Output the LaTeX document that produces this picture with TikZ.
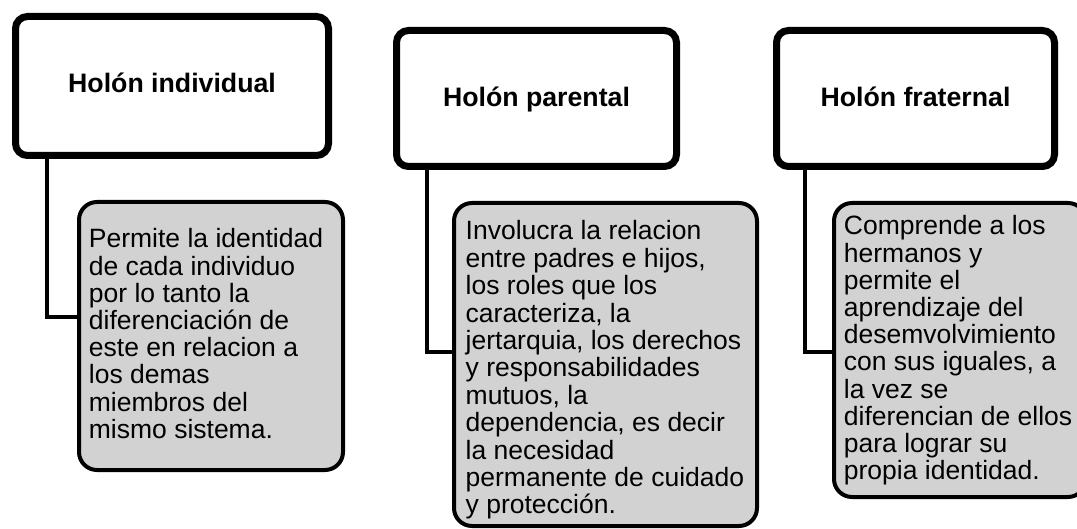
\documentclass[tikz,border=0pt]{standalone}
\usepackage{fontspec}
\setmainfont{Liberation Sans}
\usetikzlibrary{shadows}
\definecolor{childgray}{RGB}{210,210,210}
\newcommand\txtlines[2]{\vtop{\baselineskip=#1\lineskiplimit=-100pt\lineskip=0pt\halign{##\hfil\cr#2\crcr}}}
\begin{document}
\begin{tikzpicture}[x=1pt,y=-1pt,
  headbox/.style={draw=black, line width=7pt, fill=white, rounded corners=12pt, inner sep=0pt, outer sep=0pt,
    text depth=0pt, font=\fontsize{26.7}{30}\selectfont\bfseries,
    drop shadow={shadow xshift=2pt, shadow yshift=-2pt, opacity=0.22}},
  childbox/.style={draw=black, line width=4pt, fill=childgray, rounded corners=18pt, inner sep=0pt, outer sep=0pt},
  childtext/.style={inner sep=0pt, anchor=base west, font=\fontsize{26.5}{27.2}\selectfont},
  conn/.style={draw=black, line width=4pt}]
\clip (0,0) rectangle (1077,529);
\fill[white] (0,0) rectangle (1077,529);
% header boxes
\node[headbox, minimum width=313pt, minimum height=139pt, text height=14pt] (h1) at (172,86) {Holón individual};
\node[headbox, minimum width=280pt, minimum height=136pt, text height=17pt] (h2) at (536.5,98.5) {Holón parental};
\node[headbox, minimum width=278pt, minimum height=136pt, text height=17pt] (h3) at (915.5,98.5) {Holón fraternal};
% child boxes
\node[childbox, minimum width=264pt, minimum height=268pt] (c1) at (211,336) {};
\node[childbox, minimum width=303pt, minimum height=323pt] (c2) at (605.5,364.5) {};
\node[childbox, minimum width=252pt, minimum height=294pt] (c3) at (960,350) {};
% connectors
\draw[conn] ([xshift=31.5pt]h1.south west) |- ([yshift=19pt]c1.west);
\draw[conn] ([xshift=30.5pt]h2.south west) |- ([yshift=12.5pt]c2.west);
\draw[conn] ([xshift=28.5pt]h3.south west) |- ([yshift=-2pt]c3.west);
% child texts
\node[childtext] (t1) at (88.7,248) {\txtlines{27.2pt}{Permite la identidad\cr de cada individuo\cr por lo tanto la\cr diferenciación de\cr este en relacion a\cr los demas\cr miembros del\cr mismo sistema.}};
\node[childtext] (t2) at (465.5,240) {\txtlines{27.4pt}{Involucra la relacion\cr entre padres e hijos,\cr los roles que los\cr caracteriza, la\cr jertarquia, los derechos\cr y responsabilidades\cr mutuos, la\cr dependencia, es decir\cr la necesidad\cr permanente de cuidado\cr y protección.}};
\node[childtext] (t3) at (843.7,235) {\txtlines{27.2pt}{Comprende a los\cr hermanos y\cr permite el\cr aprendizaje del\cr desemvolvimiento\cr con sus iguales, a\cr la vez se\cr diferencian de ellos\cr para lograr su\cr propia identidad.}};
\end{tikzpicture}
\end{document}
